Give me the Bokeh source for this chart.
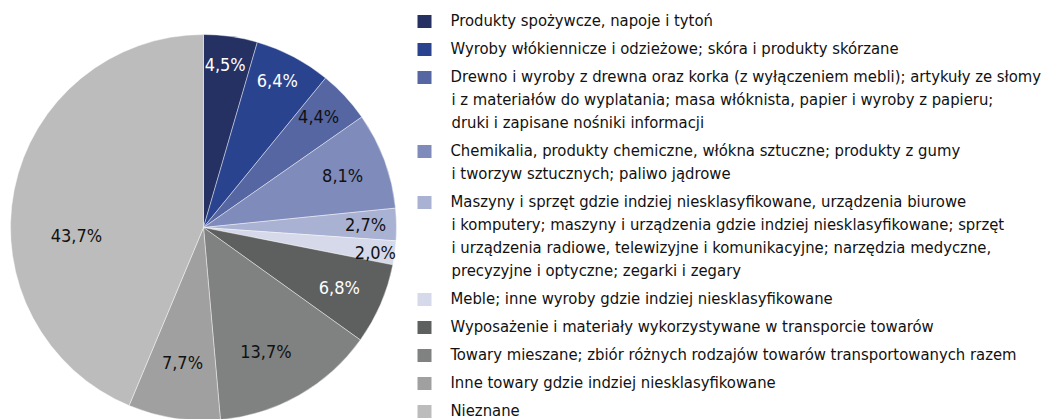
import numpy as np
from bokeh.plotting import figure
from bokeh.models import Range1d, ColumnDataSource
from bokeh.core.properties import value
from bokeh.embed import file_html
from bokeh.resources import INLINE

# ---- data ----
categories = [
    "Produkty spożywcze, napoje i tytoń",
    "Wyroby włókiennicze i odzieżowe;  skóra i produkty skórzane",
    "Drewno i wyroby z drewna oraz korka (z wyłączeniem mebli); artykuły ze słomy\ni z materiałów do wyplatania; masa włóknista, papier i wyroby z papieru;\ndruki i zapisane nośniki informacji",
    "Chemikalia, produkty  chemiczne, włókna sztuczne; produkty z gumy\ni tworzyw sztucznych; paliwo jądrowe",
    "Maszyny i sprzęt gdzie indziej niesklasyfikowane, urządzenia biurowe\ni komputery; maszyny i urządzenia gdzie indziej niesklasyfikowane; sprzęt\ni urządzenia radiowe, telewizyjne i komunikacyjne; narzędzia medyczne,\nprecyzyjne i optyczne; zegarki i zegary",
    "Meble; inne wyroby gdzie indziej niesklasyfikowane",
    "Wyposażenie i materiały wykorzystywane  w transporcie towarów",
    "Towary mieszane; zbiór różnych rodzajów towarów transportowanych razem",
    "Inne towary gdzie indziej niesklasyfikowane",
    "Nieznane",
]
shares = [4.5, 6.4, 4.4, 8.1, 2.7, 2.0, 6.8, 13.7, 7.7, 43.7]
share_labels = ["4,5%", "6,4%", "4,4%", "8,1%", "2,7%", "2,0%", "6,8%", "13,7%", "7,7%", "43,7%"]

# ---- styles / layout ----
colors = ["#253063", "#2a438f", "#5566a3", "#7f8bbb", "#aab2d3", "#d5d9e9",
          "#5e6060", "#808181", "#a0a0a0", "#bcbcbc"]
label_colors = ["white", "white", "#111111", "#111111", "#111111", "#111111",
                "white", "#111111", "#111111", "#111111"]
label_radius = [0.85, 0.85, 0.83, 0.77, 0.84, 0.90, 0.77, 0.72, 0.71, 0.66]
label_angle_shift = [0.5, 1.0, 1.2, 0.2, 0.0, -0.7, -0.6, -3.0, 0.0, 15.0]

FONT = "DejaVu Sans Condensed"
W, H = 1057, 419
cx, cy, R = 203, H - 227, 193

p = figure(width=W, height=H, x_range=Range1d(0, W), y_range=Range1d(0, H),
           x_axis_type=None, y_axis_type=None, toolbar_location=None,
           output_backend="svg", min_border=0)
p.outline_line_color = None
p.background_fill_color = "white"
p.border_fill_color = "white"

# ---- pie ----
frac = np.array(shares) / np.sum(shares)
cum_after = np.cumsum(frac)
cum_before = cum_after - frac
start = np.pi / 2 - 2 * np.pi * cum_after
end = np.pi / 2 - 2 * np.pi * cum_before
src = ColumnDataSource(dict(start=start, end=end, color=colors))
p.wedge(x=cx, y=cy, radius=R, start_angle="start", end_angle="end",
        fill_color="color", line_color="white", line_width=0.6, line_alpha=0.7,
        source=src)

mid = (start + end) / 2 + np.radians(label_angle_shift)
lx = cx + np.array(label_radius) * R * np.cos(mid)
ly = cy + np.array(label_radius) * R * np.sin(mid)
p.text(x=lx, y=ly, text=share_labels, text_color=label_colors,
       text_align="center", text_baseline="middle",
       text_font=value(FONT), text_font_size="18px")

# ---- legend ----
line_h = 23.0
gap = 28.0
y_screen = 19.5
sq_y, sq_c = [], []
tx, ty, tt = [], [], []
for cat, col in zip(categories, colors):
    lines = cat.split("\n")
    sq_y.append(H - (y_screen + 1.5))
    sq_c.append(col)
    for j, ln in enumerate(lines):
        tx.append(450 if j == 0 else 451)
        ty.append(H - (y_screen + j * line_h))
        tt.append(ln)
    y_screen += (len(lines) - 1) * line_h + gap

p.rect(x=424, y=sq_y, width=14, height=13, fill_color=sq_c, line_color=None)
p.text(x=tx, y=ty, text=tt, text_color="#111111", text_align="left",
       text_baseline="middle", text_font=value(FONT), text_font_size="16.5px")

open("out.html", "w").write(file_html(p, INLINE))
